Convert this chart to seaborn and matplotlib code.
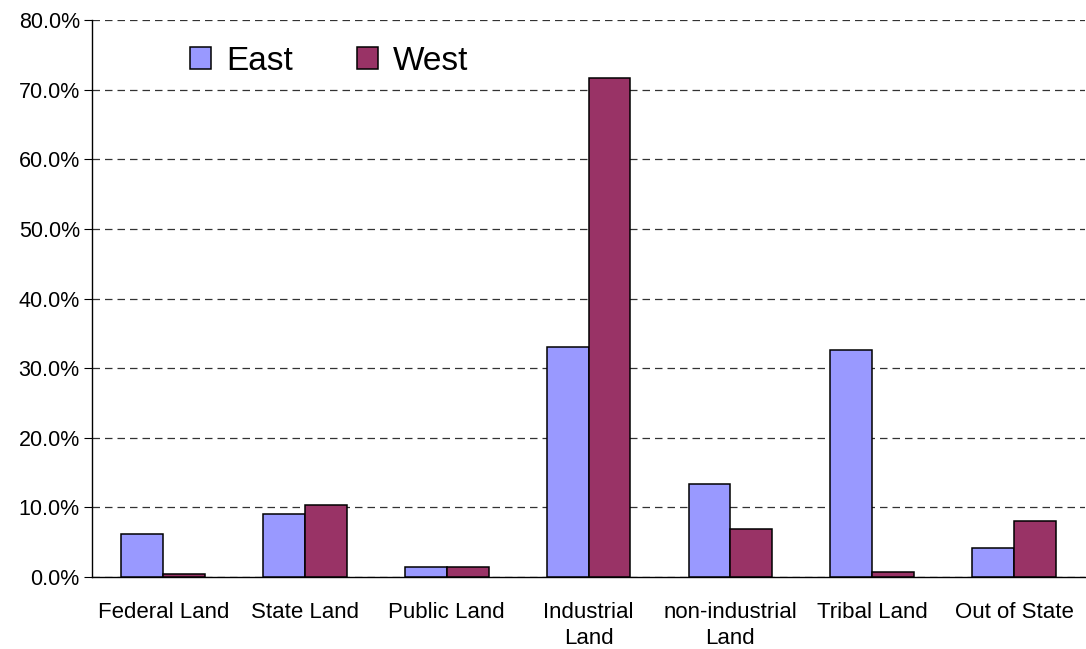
import pandas as pd
import matplotlib
matplotlib.use("Agg")
import matplotlib.pyplot as plt
import seaborn as sns
from matplotlib.ticker import PercentFormatter, FixedLocator

# Data (percent of harvest by ownership)
categories = ['Federal Land', 'State Land', 'Public Land', 'Industrial\nLand',
              'non-industrial\nLand', 'Tribal Land', 'Out of State']
east = [6.2, 9.0, 1.4, 33.0, 13.4, 32.6, 4.2]
west = [0.4, 10.4, 1.4, 71.7, 6.9, 0.7, 8.1]

df = pd.DataFrame({'Category': categories, 'East': east, 'West': west})
df_long = df.melt(id_vars='Category', var_name='Region', value_name='Share')

sns.set_style('white')
plt.rcParams['font.family'] = ['Liberation Sans', 'DejaVu Sans']
plt.rcParams['text.color'] = 'black'
plt.rcParams['xtick.color'] = 'black'
plt.rcParams['ytick.color'] = 'black'

fig = plt.figure(figsize=(10.86, 6.49), dpi=100)
ax = fig.add_axes([0.085, 0.111, 0.914, 0.858])

sns.barplot(data=df_long, x='Category', y='Share', hue='Region',
            palette={'East': '#9999FF', 'West': '#993366'}, saturation=1,
            width=0.59, edgecolor='black', linewidth=1.1, ax=ax, zorder=3)

ax.set_ylim(0, 80)
ax.set_xlim(-0.5, len(categories) - 0.5)
ax.yaxis.set_major_locator(FixedLocator(range(0, 81, 10)))
ax.yaxis.set_major_formatter(PercentFormatter(decimals=1))
ax.yaxis.grid(True, linestyle=(0, (6, 4)), color='#333333', linewidth=0.9, zorder=0)
ax.set_axisbelow(True)

ax.set_xlabel('')
ax.set_ylabel('')
ax.tick_params(axis='x', which='major', length=0, pad=18, labelsize=16)
for lbl in ax.get_xticklabels():
    lbl.set_linespacing(1.3)
ax.set_xticks([i - 0.5 for i in range(len(categories) + 1)], minor=True)
ax.tick_params(axis='x', which='minor', length=6, direction='out', color='black')
ax.tick_params(axis='y', length=6, direction='out', color='black', labelsize=15.5,
               left=True, pad=3)

for s in ['top', 'right']:
    ax.spines[s].set_visible(False)
for s in ['left', 'bottom']:
    ax.spines[s].set_color('black')
    ax.spines[s].set_linewidth(1.0)

ax.legend(loc='upper left', bbox_to_anchor=(0.068, 1.008), ncol=2, frameon=False,
          fontsize=24, handlelength=0.65, handleheight=0.65, columnspacing=1.9,
          handletextpad=0.45)

fig.savefig('out.png', dpi=100)
